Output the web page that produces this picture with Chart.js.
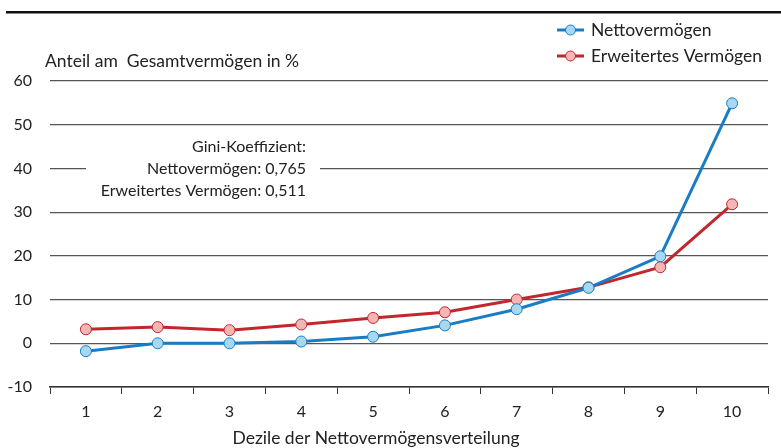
<!DOCTYPE html>
<html>
<head>
<meta charset="utf-8">
<script src="https://cdn.jsdelivr.net/npm/chart.js@4"></script>
<style>
  html, body { margin: 0; padding: 0; background: #fff; }
  #wrap { width: 781px; height: 448px; position: relative; }
</style>
</head>
<body>
<div id="wrap"><canvas id="chart1" width="781" height="448"></canvas></div>
<script>
// Deciles of net wealth distribution, share of total wealth in %
const deciles = ["1", "2", "3", "4", "5", "6", "7", "8", "9", "10"];
const nettoData = [-1.8, 0, 0, 0.4, 1.5, 4.1, 7.8, 12.7, 19.9, 54.9];
const erweitertData = [3.2, 3.7, 3.0, 4.3, 5.8, 7.1, 10.0, 12.8, 17.4, 31.8];
const seriesNames = ["Nettovermögen", "Erweitertes Vermögen"];
const giniLines = ["Gini-Koeffizient:", "Nettovermögen: 0,765", "Erweitertes Vermögen: 0,511"];

const FONT = "Lato, 'Noto Sans', sans-serif";
const TXT = "#222";

// top rule, gini note, titles and legend
const extras = {
  id: "extras",
  beforeDatasetsDraw(chart) {
    const ctx = chart.ctx;
    const y = chart.scales.y;
    ctx.save();
    // gap in the 40 gridline behind the note
    const y40 = y.getPixelForValue(40);
    ctx.fillStyle = "#fff";
    ctx.fillRect(86, y40 - 4, 234, 8);
    ctx.font = "16px " + FONT;
    ctx.fillStyle = TXT;
    ctx.textAlign = "right";
    ctx.textBaseline = "middle";
    ctx.fillText(giniLines[0], 306, y40 - 22);
    ctx.fillText(giniLines[1], 306, y40);
    ctx.fillText(giniLines[2], 306, y40 + 22);
    ctx.restore();
  },
  afterDraw(chart) {
    const ctx = chart.ctx;
    ctx.save();
    ctx.fillStyle = "#111";
    ctx.fillRect(6, 11, 775, 2.5);
    ctx.font = "17.5px " + FONT;
    ctx.fillStyle = TXT;
    ctx.textBaseline = "middle";
    // y title
    ctx.fillText("Anteil am  Gesamtvermögen in %", 45, 61);
    // x title
    ctx.textAlign = "center";
    ctx.fillText("Dezile der Nettovermögensverteilung", 376, 438);
    // legend
    chart.data.datasets.forEach((ds, i) => {
      const ly = 30 + i * 26;
      ctx.strokeStyle = ds.borderColor;
      ctx.lineWidth = 3;
      ctx.beginPath();
      ctx.moveTo(557, ly);
      ctx.lineTo(584, ly);
      ctx.stroke();
      ctx.beginPath();
      ctx.arc(570.5, ly, 5, 0, Math.PI * 2);
      ctx.fillStyle = ds.pointBackgroundColor;
      ctx.fill();
      ctx.lineWidth = 1;
      ctx.strokeStyle = ds.pointBorderColor;
      ctx.stroke();
      ctx.fillStyle = TXT;
      ctx.font = "17.5px " + FONT;
      ctx.textAlign = "left";
      ctx.fillText(ds.label, 591, ly);
    });
    ctx.restore();
  }
};

const ctx = document.getElementById("chart1").getContext("2d");
new Chart(ctx, {
  type: "line",
  data: {
    labels: deciles,
    datasets: [
      {
        label: seriesNames[0],
        data: nettoData,
        borderColor: "#1a7cc4",
        borderWidth: 3,
        pointBackgroundColor: "#a6d8f2",
        pointBorderColor: "#1a7cc4",
        pointBorderWidth: 1,
        pointRadius: 5.5,
        tension: 0
      },
      {
        label: seriesNames[1],
        data: erweitertData,
        borderColor: "#c1272d",
        borderWidth: 3,
        pointBackgroundColor: "#f5b5b5",
        pointBorderColor: "#c1272d",
        pointBorderWidth: 1,
        pointRadius: 5.5,
        tension: 0
      }
    ]
  },
  options: {
    responsive: false,
    animation: false,
    layout: { padding: { top: 81, right: 13, left: 0, bottom: 0 } },
    plugins: { legend: { display: false }, tooltip: { enabled: false } },
    scales: {
      x: {
        offset: true,
        grid: {
          drawOnChartArea: false,
          drawTicks: true,
          tickLength: 7,
          tickColor: "#333",
          offset: true
        },
        border: { display: true, color: "#333", width: 1.5 },
        ticks: { color: TXT, font: { family: FONT, size: 16 }, padding: 8 },
        afterFit(scale) { scale.height = 61; }
      },
      y: {
        min: -10,
        max: 60,
        ticks: { stepSize: 10, color: TXT, font: { family: FONT, size: 16 }, padding: 18 },
        grid: { color: "#555", lineWidth: 1.2, drawTicks: false },
        border: { display: false },
        afterFit(scale) { scale.width = 50; }
      }
    }
  },
  plugins: [extras]
});
</script>
</body>
</html>
